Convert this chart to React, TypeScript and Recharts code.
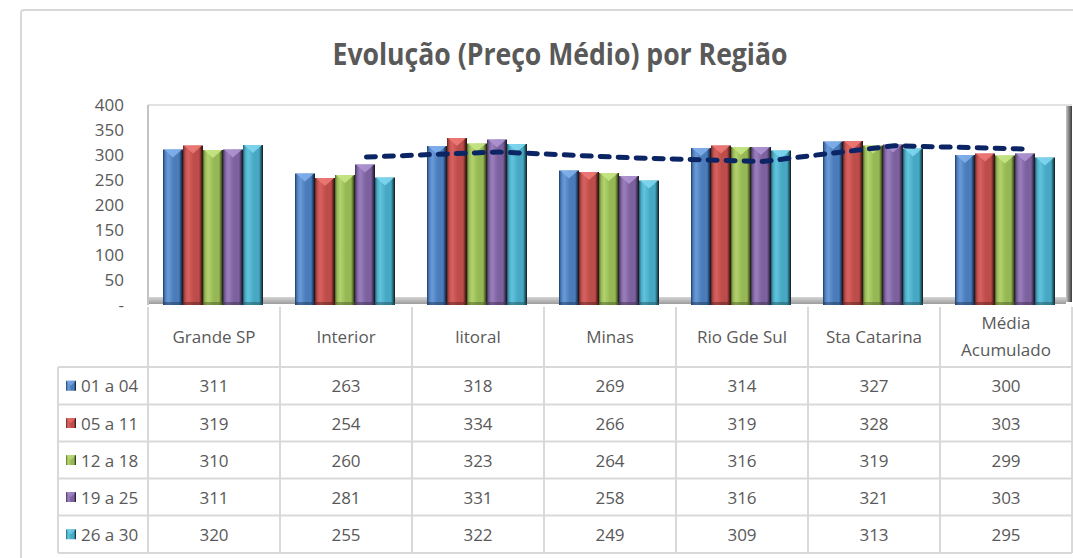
import React from 'react'
import {
  ComposedChart,
  Bar,
  Line,
  XAxis,
  YAxis,
  ReferenceLine,
} from 'recharts'

const categories = [
  'Grande SP',
  'Interior',
  'litoral',
  'Minas',
  'Rio Gde Sul',
  'Sta Catarina',
  'Média Acumulado',
]
const periods = ['01 a 04', '05 a 11', '12 a 18', '19 a 25', '26 a 30']

const week0104 = [311, 263, 318, 269, 314, 327, 300]
const week0511 = [319, 254, 334, 266, 319, 328, 303]
const week1218 = [310, 260, 323, 264, 316, 319, 299]
const week1925 = [311, 281, 331, 258, 316, 321, 303]
const week2630 = [320, 255, 322, 249, 309, 313, 295]

// moving average trend line (2 periods) drawn over the "19 a 25" bars
const trendValues = [null, 296, 306, 294.5, 287, 318.5, 312]

const yTicks = [0, 50, 100, 150, 200, 250, 300, 350, 400]

const seriesValues = [week0104, week0511, week1218, week1925, week2630]

const rows = categories.map((region, i) => ({
  region,
  slot: i,
  p0: week0104[i],
  p1: week0511[i],
  p2: week1218[i],
  p3: week1925[i],
  p4: week2630[i],
  trend: trendValues[i],
}))

// layout
const W = 1073
const H = 558
const PLOT_LEFT = 148
const PLOT_RIGHT = 1072
const PLOT_TOP = 105
const PLOT_BOTTOM = 305
const BAND = (PLOT_RIGHT - PLOT_LEFT) / categories.length
const CAT_GAP = 15
const BAR_W = (BAND - 2 * CAT_GAP) / periods.length
const TREND_SHIFT = BAR_W / BAND // trend sits on the 4th bar of each group
const ROW_LINES = [367, 404.5, 441.5, 478.5, 515.5, 553]
const HEADER_MID = 336
const LEGEND_LEFT = 58
const TEXT = '#595959'
const GRID = '#d9d9d9'
const FONT = '"Open Sans", "Noto Sans", sans-serif'

const tones = [
  { light: '#6b9bd8', base: '#4a7cba', dark: '#1f3a60', tip: '#7fb0ec' },
  { light: '#d8625f', base: '#bd4d4a', dark: '#5e2220', tip: '#ec7a76' },
  { light: '#b2d36e', base: '#96b854', dark: '#4d5f27', tip: '#c6e585' },
  { light: '#9b80bf', base: '#7d619f', dark: '#3e2f52', tip: '#ae93d2' },
  { light: '#63c4de', base: '#46a8c3', dark: '#1f5665', tip: '#7fd6ee' },
]

function GradientDefs() {
  return (
    <svg width={0} height={0} style={{ position: 'absolute' }}>
      <defs>
        {tones.map((t, k) => (
          <linearGradient key={k} id={`bar-${k}`} x1="0" y1="0" x2="1" y2="0">
            <stop offset="0" stopColor={t.dark} />
            <stop offset="0.1" stopColor={t.base} />
            <stop offset="0.25" stopColor={t.light} />
            <stop offset="0.55" stopColor={t.base} />
            <stop offset="0.8" stopColor={t.base} />
            <stop offset="0.92" stopColor={t.dark} />
            <stop offset="1" stopColor="#141414" />
          </linearGradient>
        ))}
      </defs>
    </svg>
  )
}

function BevelBar(props: any) {
  const { x, y, width, height, tone } = props
  if (!height || height <= 0) return null
  const t = tones[tone]
  return (
    <g>
      <rect x={x} y={y} width={width} height={height} fill={`url(#bar-${tone})`} />
      <polygon
        points={`${x + 1},${y} ${x + width - 1},${y} ${x + width / 2},${y + 8}`}
        fill={t.tip}
        opacity={0.9}
      />
      <rect x={x} y={y + height - 3} width={width} height={3} fill={t.dark} opacity={0.5} />
    </g>
  )
}

function headerLines(label: string) {
  if (label.length > 13) {
    const cut = label.indexOf(' ')
    return [label.slice(0, cut), label.slice(cut + 1)]
  }
  return [label]
}

function TableColumn(props: any) {
  const { x, payload } = props
  const i = categories.indexOf(payload.value)
  const left = x - BAND / 2
  const right = x + BAND / 2
  const lines = headerLines(payload.value)
  const bottom = ROW_LINES[ROW_LINES.length - 1]

  return (
    <g fontFamily={FONT} fontSize={17} fill={TEXT}>
      <line x1={left} y1={PLOT_BOTTOM + 2} x2={left} y2={bottom} stroke={GRID} strokeWidth={2} />
      {i === categories.length - 1 && (
        <line x1={right} y1={PLOT_BOTTOM + 2} x2={right} y2={bottom} stroke={GRID} strokeWidth={2} />
      )}
      {ROW_LINES.map((ly) => (
        <line key={ly} x1={left} y1={ly} x2={right} y2={ly} stroke={GRID} strokeWidth={2} />
      ))}
      {lines.map((ln, k) => (
        <text
          key={ln}
          x={x}
          y={HEADER_MID + (k - (lines.length - 1) / 2) * 27}
          textAnchor="middle"
          dominantBaseline="central"
        >
          {ln}
        </text>
      ))}
      {seriesValues.map((vals, r) => (
        <text
          key={r}
          x={x}
          y={(ROW_LINES[r] + ROW_LINES[r + 1]) / 2}
          textAnchor="middle"
          dominantBaseline="central"
        >
          {vals[i]}
        </text>
      ))}
      {i === 0 && (
        <g>
          <line x1={LEGEND_LEFT} y1={ROW_LINES[0]} x2={LEGEND_LEFT} y2={bottom} stroke={GRID} strokeWidth={2} />
          {ROW_LINES.map((ly) => (
            <line key={ly} x1={LEGEND_LEFT} y1={ly} x2={left} y2={ly} stroke={GRID} strokeWidth={2} />
          ))}
          {periods.map((p, r) => {
            const cy = (ROW_LINES[r] + ROW_LINES[r + 1]) / 2
            return (
              <g key={p}>
                <rect x={66} y={cy - 5} width={10} height={10} fill={`url(#bar-${r})`} />
                <polygon points={`66,${cy - 5} 76,${cy - 5} 71,${cy}`} fill={tones[r].tip} opacity={0.6} />
                <text x={81} y={cy} dominantBaseline="central">
                  {p}
                </text>
              </g>
            )
          })}
        </g>
      )}
    </g>
  )
}

export default function App() {
  return (
    <div
      style={{
        position: 'fixed',
        left: 0,
        top: 0,
        width: W,
        height: H,
        overflow: 'hidden',
        background: '#fff',
      }}
    >
      <GradientDefs />
      {/* outer chart frame */}
      <div
        style={{
          position: 'absolute',
          left: 20,
          top: 9,
          width: 1100,
          height: 620,
          border: `2px solid ${GRID}`,
          borderRadius: 4,
          boxSizing: 'border-box',
        }}
      />
      {/* 3d floor and right wall of the plot area */}
      <div
        style={{
          position: 'absolute',
          left: PLOT_LEFT,
          top: 297,
          width: 918,
          height: 7,
          background: 'linear-gradient(#d6d6d6, #9c9c9c)',
        }}
      />
      <div
        style={{
          position: 'absolute',
          left: 1066,
          top: 104,
          width: 6,
          height: 198,
          background: 'linear-gradient(to right, #c8c8c8, #3a3a3a)',
        }}
      />
      <svg width={W} height={95} style={{ position: 'absolute', left: 0, top: 0 }}>
        <text
          x={560}
          y={65}
          textAnchor="middle"
          fontFamily={FONT}
          fontWeight={700}
          fontSize={30}
          fill={TEXT}
          textLength={455}
          lengthAdjust="spacingAndGlyphs"
        >
          Evolução (Preço Médio) por Região
        </text>
      </svg>
      <div style={{ position: 'absolute', left: 0, top: 0 }}>
        <ComposedChart
          width={W}
          height={H}
          data={rows}
          margin={{ top: PLOT_TOP, right: W - PLOT_RIGHT, bottom: 0, left: 0 }}
          barCategoryGap={CAT_GAP}
          barGap={0}
        >
          <XAxis
            dataKey="region"
            height={H - PLOT_BOTTOM}
            axisLine={false}
            tickLine={false}
            interval={0}
            tick={<TableColumn />}
          />
          <XAxis
            xAxisId="trend"
            dataKey="slot"
            type="number"
            domain={[-0.5 - TREND_SHIFT, categories.length - 0.5 - TREND_SHIFT]}
            allowDataOverflow
            hide
          />
          <YAxis
            width={PLOT_LEFT}
            domain={[0, 400]}
            ticks={yTicks}
            interval={0}
            tickLine={false}
            tickMargin={18}
            axisLine={{ stroke: '#c4c4c4', strokeWidth: 2 }}
            tick={{ fill: TEXT, fontSize: 17, fontFamily: FONT }}
            tickFormatter={(v) => (v === 0 ? '-' : String(v))}
          />
          <ReferenceLine y={400} stroke="#e2e2e2" strokeWidth={2} />
          {periods.map((p, k) => (
            <Bar
              key={p}
              dataKey={`p${k}`}
              name={p}
              fill={tones[k].base}
              isAnimationActive={false}
              shape={(bp: any) => <BevelBar {...bp} tone={k} />}
            />
          ))}
          <Line
            xAxisId="trend"
            dataKey="trend"
            type="linear"
            stroke="#0b2463"
            strokeWidth={5}
            strokeDasharray="9 9"
            strokeLinecap="round"
            dot={false}
            activeDot={false}
            isAnimationActive={false}
          />
        </ComposedChart>
      </div>
    </div>
  )
}
